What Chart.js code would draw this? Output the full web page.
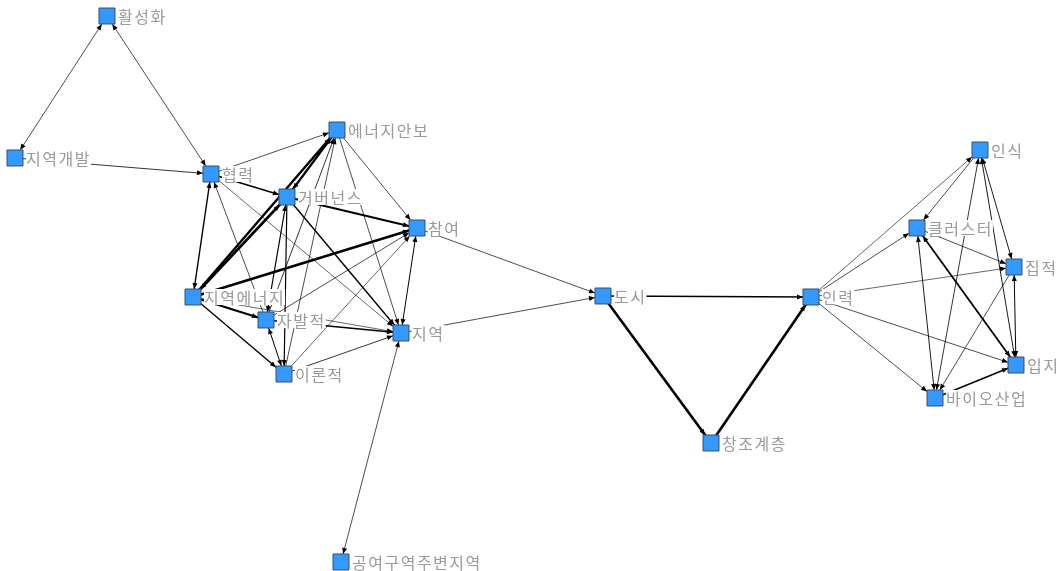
<!DOCTYPE html>
<html lang="ko">
<head>
<meta charset="utf-8">
<title>키워드 네트워크</title>
<script src="https://cdn.jsdelivr.net/npm/chart.js@4.4.1/dist/chart.umd.min.js"></script>
<style>
  html, body { margin: 0; padding: 0; background: #fff; }
  #wrap { width: 1059px; height: 571px; }
</style>
</head>
<body>
<div id="wrap"><canvas id="net" width="1059" height="571"></canvas></div>
<script>
// Nós (posições)
const nomes = ['활성화', '지역개발', '협력', '에너지안보', '거버넌스', '참여', '지역에너지', '자발적', '지역', '이론적',
  '공여구역주변지역', '도시', '인력', '창조계층', '인식', '클러스터', '집적', '입지', '바이오산업'];
const posX = [107, 15, 211, 337, 287, 417, 193, 266, 401, 284, 341, 603, 811, 711, 980, 917, 1014, 1016, 935];
const posY = [16, 158, 174, 130, 197, 228, 297, 320, 333, 374, 562, 296, 297, 443, 150, 228, 267, 365, 398];

// Arestas: origem, destino, peso, bidirecional
const origem = ['활성화', '활성화', '지역개발', '협력', '협력', '협력', '협력', '자발적',
  '거버넌스', '거버넌스', '거버넌스', '거버넌스', '거버넌스', '거버넌스',
  '지역에너지', '지역에너지', '지역에너지', '지역에너지', '지역에너지',
  '자발적', '자발적', '자발적', '자발적', '이론적', '이론적', '이론적',
  '에너지안보', '에너지안보', '참여', '참여', '지역', '지역',
  '도시', '도시', '창조계층',
  '인력', '인력', '인력', '인력', '인력',
  '인식', '인식', '인식', '인식', '클러스터', '클러스터', '클러스터', '집적', '집적', '바이오산업'];
const destino = ['지역개발', '협력', '협력', '에너지안보', '거버넌스', '지역에너지', '지역', '협력',
  '에너지안보', '참여', '지역', '지역에너지', '자발적', '이론적',
  '에너지안보', '참여', '자발적', '이론적', '지역',
  '지역', '이론적', '에너지안보', '참여', '에너지안보', '지역', '참여',
  '참여', '지역', '지역', '도시', '도시', '공여구역주변지역',
  '인력', '창조계층', '인력',
  '인식', '클러스터', '집적', '입지', '바이오산업',
  '클러스터', '집적', '입지', '바이오산업', '집적', '입지', '바이오산업', '입지', '바이오산업', '입지'];
const peso = [0.7, 0.7, 0.8, 0.7, 1.6, 1.4, 0.6, 0.7,
  2.2, 2.0, 1.4, 2.6, 1.2, 1.2,
  2.4, 2.4, 2.2, 1.4, 0.6,
  1.4, 1.0, 0.8, 0.7, 0.7, 0.8, 0.6,
  0.7, 0.7, 1.0, 0.7, 0.7, 0.7,
  1.4, 2.6, 2.6,
  0.6, 0.7, 0.6, 0.7, 0.7,
  0.7, 0.9, 0.9, 0.8, 0.7, 1.8, 0.9, 1.0, 0.7, 1.4];
const ambos = [1, 1, 0, 0, 0, 1, 0, 0,
  1, 0, 0, 1, 1, 0,
  0, 0, 0, 0, 0,
  0, 1, 0, 0, 0, 0, 0,
  0, 0, 1, 0, 0, 1,
  0, 0, 0,
  0, 0, 0, 0, 0,
  0, 1, 1, 1, 0, 1, 1, 1, 0, 0];

const idx = n => nomes.indexOf(n);
const FONTE = '16px "Noto Sans CJK KR", sans-serif';

// Desenha as arestas com seta e os rótulos, antes dos pontos
const arestasPlugin = {
  id: 'arestas',
  beforeDatasetsDraw(chart) {
    const { ctx, scales: { x, y } } = chart;
    ctx.save();
    ctx.strokeStyle = '#000';
    ctx.fillStyle = '#000';
    for (let i = 0; i < origem.length; i++) {
      const a = idx(origem[i]), b = idx(destino[i]);
      const x1 = x.getPixelForValue(posX[a]), y1 = y.getPixelForValue(posY[a]);
      const x2 = x.getPixelForValue(posX[b]), y2 = y.getPixelForValue(posY[b]);
      ctx.lineWidth = peso[i];
      ctx.beginPath();
      ctx.moveTo(x1, y1);
      ctx.lineTo(x2, y2);
      ctx.stroke();
      seta(ctx, x1, y1, x2, y2);
      if (ambos[i]) seta(ctx, x2, y2, x1, y1);
    }
    // rótulos com fundo branco
    ctx.font = FONTE;
    ctx.letterSpacing = '1.5px';
    ctx.textBaseline = 'middle';
    nomes.forEach((n, i) => {
      const px = x.getPixelForValue(posX[i]) + 11, py = y.getPixelForValue(posY[i]);
      const w = ctx.measureText(n).width;
      ctx.fillStyle = '#fff';
      ctx.fillRect(px, py - 8, w, 16);
      ctx.fillStyle = '#9a9a9a';
      ctx.fillText(n, px, py + 1);
    });
    ctx.restore();
  }
};

function seta(ctx, x1, y1, x2, y2) {
  const ang = Math.atan2(y2 - y1, x2 - x1);
  // ponta na borda do quadrado
  const r = 8 / Math.max(Math.abs(Math.cos(ang)), Math.abs(Math.sin(ang)));
  const px = x2 - Math.cos(ang) * r, py = y2 - Math.sin(ang) * r;
  const L = 6, W = 2.5;
  ctx.beginPath();
  ctx.moveTo(px, py);
  ctx.lineTo(px - L * Math.cos(ang) + W * Math.sin(ang), py - L * Math.sin(ang) - W * Math.cos(ang));
  ctx.lineTo(px - L * Math.cos(ang) - W * Math.sin(ang), py - L * Math.sin(ang) + W * Math.cos(ang));
  ctx.closePath();
  ctx.fill();
}

new Chart(document.getElementById('net'), {
  type: 'scatter',
  data: {
    datasets: [{
      data: nomes.map((n, i) => ({ x: posX[i], y: posY[i] })),
      pointStyle: 'rect',
      pointRadius: 11.3,
      pointHoverRadius: 11.3,
      backgroundColor: '#3399ff',
      borderColor: '#3c4f66',
      borderWidth: 1,
    }],
  },
  options: {
    responsive: false,
    animation: false,
    layout: { padding: 0, autoPadding: false },
    plugins: { legend: { display: false }, tooltip: { enabled: false } },
    scales: {
      x: { type: 'linear', min: 0, max: 1059, display: false },
      y: { type: 'linear', min: 0, max: 571, reverse: true, display: false },
    },
  },
  plugins: [arestasPlugin],
});
</script>
</body>
</html>
